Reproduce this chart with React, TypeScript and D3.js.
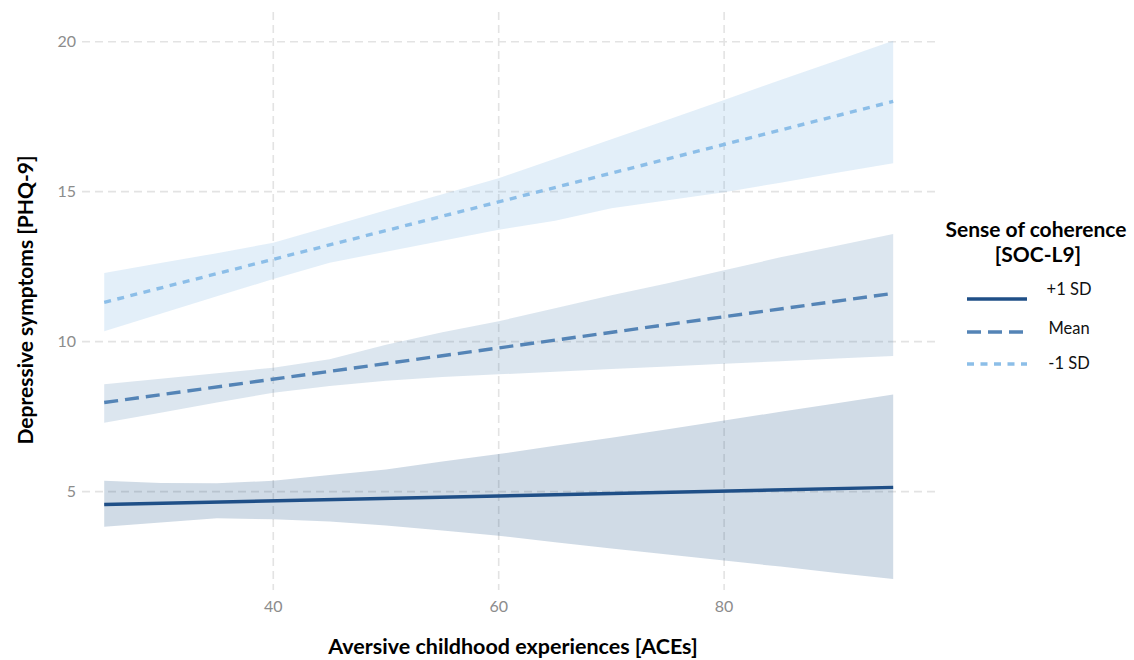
import React from "react";
import * as d3 from "d3";

const aceGrid = [25, 30, 35, 40, 45, 50, 55, 60, 65, 70, 75, 80, 85, 90, 95];

const lowUpper = [12.29, 12.62, 12.95, 13.3, 13.84, 14.38, 14.91, 15.45, 16.1, 16.75, 17.4, 18.06, 18.72, 19.37, 20.03];
const lowLower = [10.35, 10.93, 11.51, 12.09, 12.63, 13.0, 13.36, 13.73, 14.03, 14.45, 14.71, 14.98, 15.3, 15.63, 15.95];
const meanUpper = [8.58, 8.76, 8.95, 9.13, 9.41, 9.9, 10.31, 10.68, 11.11, 11.55, 11.95, 12.38, 12.81, 13.2, 13.59];
const meanLower = [7.3, 7.63, 7.97, 8.3, 8.52, 8.7, 8.82, 8.91, 9.0, 9.09, 9.17, 9.26, 9.35, 9.44, 9.52];
const highUpper = [5.36, 5.29, 5.28, 5.36, 5.55, 5.74, 6.0, 6.25, 6.53, 6.8, 7.08, 7.37, 7.66, 7.95, 8.24];
const highLower = [3.83, 3.97, 4.11, 4.08, 4.0, 3.87, 3.7, 3.53, 3.31, 3.1, 2.9, 2.7, 2.5, 2.29, 2.09];

const lineX = [25, 95];
const lowLine = [11.31, 18.01];
const meanLine = [7.97, 11.61];
const highLine = [4.57, 5.14];

const xTicks = [40, 60, 80];
const yTicks = [5, 10, 15, 20];

const legendLabels = ["+1 SD", "Mean", "-1 SD"];

const FONT = "Lato, 'Open Sans', sans-serif";

export default function App() {
  const x = d3.scaleLinear().domain([23.03, 98.71]).range([82, 935]);
  const y = d3.scaleLinear().domain([1.72, 20.99]).range([590, 12]);

  const area = (up: number[], lo: number[]) =>
    d3
      .area<number>()
      .x((d) => x(d))
      .y0((_, i) => y(lo[i]))
      .y1((_, i) => y(up[i]))(aceGrid) || "";

  const line = (vals: number[]) =>
    d3
      .line<number>()
      .x((d) => x(d))
      .y((_, i) => y(vals[i]))(lineX) || "";

  const series = [
    { label: legendLabels[0], up: highUpper, lo: highLower, vals: highLine, fill: "#144b82", stroke: "#1f4f87", dash: "none", w: 3.4 },
    { label: legendLabels[1], up: meanUpper, lo: meanLower, vals: meanLine, fill: "#5082af", stroke: "#5484b6", dash: "14,7", w: 3.4 },
    { label: legendLabels[2], up: lowUpper, lo: lowLower, vals: lowLine, fill: "#73afe1", stroke: "#8cbee8", dash: "7,6.5", w: 3.4 },
  ];

  const gridColor = "#e3e3e3";

  return (
    <svg
      width={1134}
      height={660}
      style={{ position: "absolute", left: 0, top: 0, background: "#fff" }}
      fontFamily={FONT}
    >
      {/* grid */}
      {yTicks.map((t) => (
        <line key={"gy" + t} x1={82} x2={935} y1={y(t)} y2={y(t)} stroke={gridColor} strokeWidth={1.6} strokeDasharray="8,5" />
      ))}
      {xTicks.map((t) => (
        <line key={"gx" + t} x1={x(t)} x2={x(t)} y1={12} y2={590} stroke={gridColor} strokeWidth={1.6} strokeDasharray="8,5" />
      ))}

      {/* ribbons */}
      {series.map((s) => (
        <path key={"a" + s.label} d={area(s.up, s.lo)} fill={s.fill} fillOpacity={0.2} />
      ))}

      {/* lines */}
      {series.map((s) => (
        <path
          key={"l" + s.label}
          d={line(s.vals)}
          fill="none"
          stroke={s.stroke}
          strokeWidth={s.w}
          strokeDasharray={s.dash === "none" ? undefined : s.dash}
        />
      ))}

      {/* tick labels */}
      {yTicks.map((t) => (
        <text key={"ty" + t} x={76} y={y(t)} dy="0.35em" textAnchor="end" fontSize={16} fill="#8c8c8c">
          {t}
        </text>
      ))}
      {xTicks.map((t) => (
        <text key={"tx" + t} x={x(t)} y={612} textAnchor="middle" fontSize={16} fill="#8c8c8c">
          {t}
        </text>
      ))}

      {/* axis titles */}
      <text x={513} y={654} textAnchor="middle" fontSize={21.5} fontWeight="bold" fill="#000">
        Aversive childhood experiences [ACEs]
      </text>
      <text
        transform="translate(33,300) rotate(-90)"
        textAnchor="middle"
        fontSize={21}
        fontWeight="bold"
        fill="#000"
      >
        Depressive symptoms [PHQ-9]
      </text>

      {/* legend */}
      <text x={1036} y={237} textAnchor="middle" fontSize={21} fontWeight="bold" fill="#000">
        Sense of coherence
      </text>
      <text x={1038} y={262} textAnchor="middle" fontSize={21} fontWeight="bold" fill="#000">
        [SOC-L9]
      </text>
      {series.map((s, i) => {
        const ky = [299, 332, 364][i];
        const ty = [289, 328, 363][i];
        return (
          <g key={"lg" + s.label}>
            <line
              x1={967}
              x2={1027}
              y1={ky}
              y2={ky}
              stroke={s.stroke}
              strokeWidth={s.w}
              strokeDasharray={s.dash === "none" ? undefined : s.dash}
            />
            <text x={1069} y={ty} dy="0.35em" textAnchor="middle" fontSize={16.5} fill="#111">
              {s.label}
            </text>
          </g>
        );
      })}
    </svg>
  );
}
